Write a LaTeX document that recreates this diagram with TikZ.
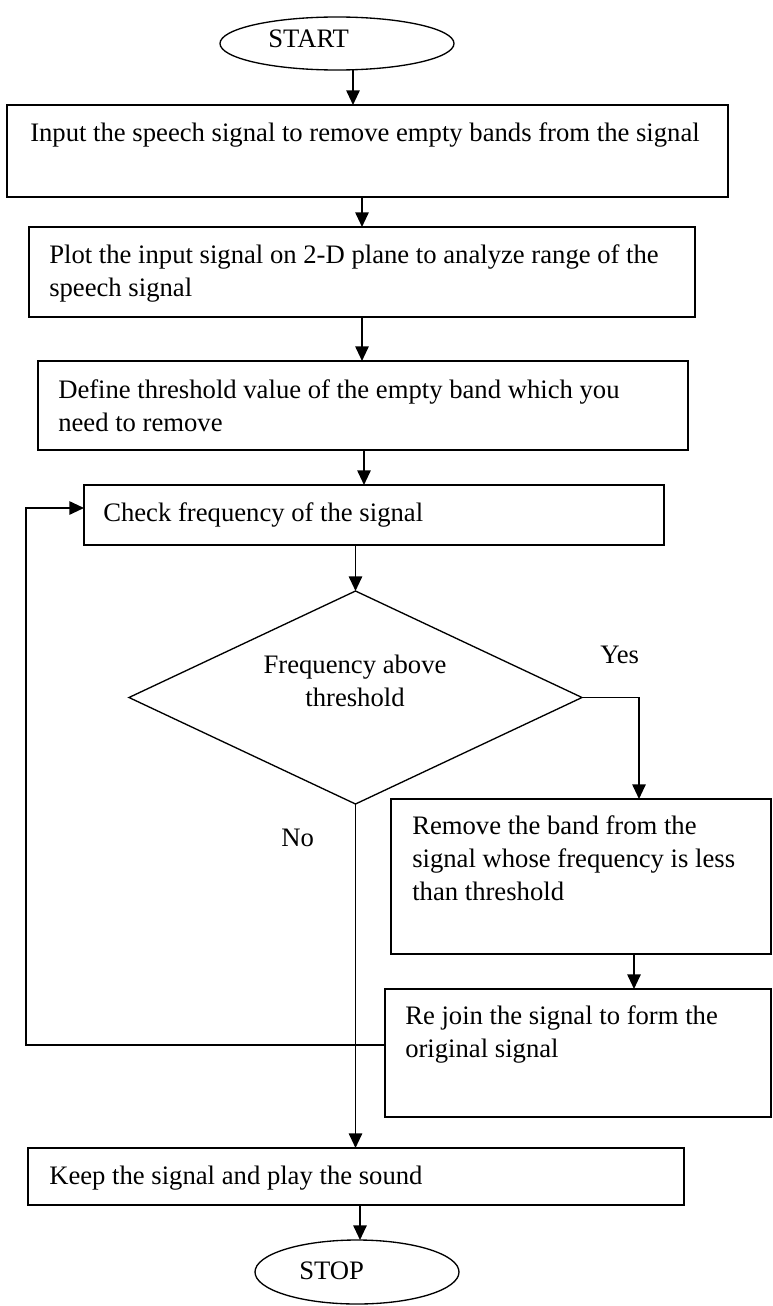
\documentclass[tikz,border=0pt]{standalone}
\usepackage{fontspec}
\setmainfont{Liberation Serif}
\usetikzlibrary{shapes.geometric,arrows.meta}
\begin{document}
\begin{tikzpicture}[x=0.75pt,y=-0.75pt,
  pbox/.style={draw,line width=1.4pt,rectangle,inner sep=0,outer sep=0},
  term/.style={draw,line width=1pt,ellipse,inner sep=0,outer sep=0},
  dec/.style={draw,line width=1pt,diamond,inner sep=0,outer sep=0},
  txt/.style={anchor=north west,inner sep=0,align=left,font=\fontsize{20pt}{24.75pt}\selectfont},
  arr/.style={line width=1.4pt,-{Triangle[length=11pt,width=10pt]}},
  conn/.style={line width=1.4pt}]
\useasboundingbox (0,0) rectangle (772,1306);
\fill[white] (0,0) rectangle (772,1306);

\node[term, minimum width=175.5pt, minimum height=39.75pt] (start) at (337,43.5) {};
\node[txt] (startT) at (268,30) {START};

\node[pbox, minimum width=540.75pt, minimum height=69pt] (b1) at (367.5,151) {};
\node[txt] (t1) at (30,122) {Input the speech signal to remove empty bands from the signal};

\node[pbox, minimum width=499.5pt, minimum height=67.5pt] (b2) at (362,272) {};
\node[txt] (t2) at (49,244) {Plot the input signal on 2-D plane to analyze range of the\\speech signal};

\node[pbox, minimum width=487.5pt, minimum height=66.75pt] (b3) at (363,405.5) {};
\node[txt] (t3) at (58,379) {Define threshold value of the empty band which you\\need to remove};

\node[pbox, minimum width=435pt, minimum height=45pt] (b4) at (374,515) {};
\node[txt] (t4) at (103,502) {Check frequency of the signal};

\node[dec, minimum width=339.75pt, minimum height=159.75pt] (d) at (355.5,697.5) {};
\node[txt, anchor=north, align=center] (td) at (355,655) {Frequency above\\threshold};

\node[txt] (yes) at (600,646) {Yes};
\node[txt] (no) at (281,829) {No};

\node[pbox, minimum width=285pt, minimum height=116.25pt] (b5) at (581,876.5) {};
\node[txt] (t5) at (412,815) {Remove the band from the\\signal whose frequency is less\\than threshold};

\node[pbox, minimum width=289.5pt, minimum height=96pt] (b6) at (578,1053) {};
\node[txt] (t6) at (405,1005) {Re join the signal to form the\\original signal};

\node[pbox, minimum width=492pt, minimum height=42.75pt] (b7) at (356,1176.5) {};
\node[txt] (t7) at (49,1166) {Keep the signal and play the sound};

\node[term, minimum width=153pt, minimum height=48pt] (stop) at (357,1272) {};
\node[txt] (stopT) at (299,1262) {STOP};

\draw[arr] (353,0 |- start.south) -- (353,0 |- b1.north);
\draw[arr] (362,0 |- b1.south) -- (362,0 |- b2.north);
\draw[arr] (362,0 |- b2.south) -- (362,0 |- b3.north);
\draw[arr] (364,0 |- b3.south) -- (364,0 |- b4.north);
\draw[arr] (d.north |- b4.south) -- (d.north);
\draw[arr] (d.east) -- (639,0 |- d.east) -- (639,0 |- b5.north);
\draw[arr] (634,0 |- b5.south) -- (634,0 |- b6.north);
\draw[arr] (d.south) -- (d.south |- b7.north);
\draw[arr] (b6.west |- 0,1045) -- (26,1045) -- (26,508) -- (b4.west |- 0,508);
\draw[arr] (360,0 |- b7.south) -- (360,0 |- stop.north);
\end{tikzpicture}
\end{document}
